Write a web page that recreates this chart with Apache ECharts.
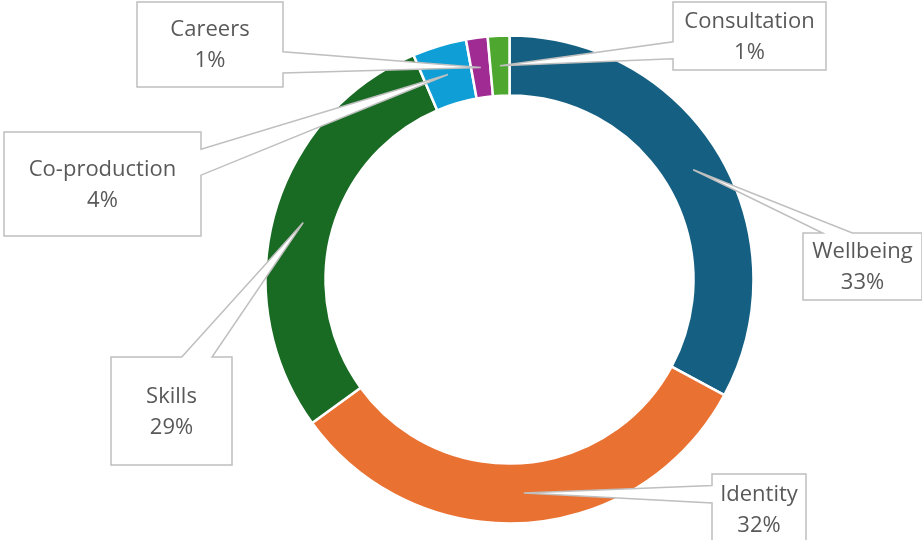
<!DOCTYPE html>
<html>
<head>
<meta charset="utf-8">
<script src="https://cdn.jsdelivr.net/npm/echarts@6/dist/echarts.min.js"></script>
<style>
  html, body { margin: 0; padding: 0; background: #ffffff; }
  #chart { width: 922px; height: 540px; }
</style>
</head>
<body>
<div id="chart"></div>
<script>
// Share of activity by theme
const categories = ['Wellbeing', 'Identity', 'Skills', 'Co-production', 'Careers', 'Consultation'];
const values = [46, 45, 40, 5, 2, 2];
const colors = ['#156082', '#E97132', '#196B24', '#0F9ED5', '#A02B93', '#4EA72E'];

// Callout boxes: [left, top, width, height] and the edge the pointer leaves from
const callouts = [
  { rect: [803, 233, 119, 67], side: 'top' },     // Wellbeing
  { rect: [712, 474, 94, 70], side: 'left' },     // Identity
  { rect: [111, 357, 121, 108], side: 'top' },    // Skills
  { rect: [4, 132, 197, 104], side: 'right' },    // Co-production
  { rect: [137, 2, 146, 85], side: 'right' },     // Careers
  { rect: [673, 2, 153, 68], side: 'left' }       // Consultation
];

const CENTER = [509.5, 279.5];
const RADIUS = [184, 244];
const TEXT_COLOR = '#595959';
const BOX_STROKE = '#BFBFBF';

const chart = echarts.init(document.getElementById('chart'), null, { renderer: 'canvas' });

const ringData = categories.map((name, i) => ({
  name: name,
  value: values[i],
  itemStyle: { color: colors[i] }
}));

const labelData = categories.map((name, i) => ({ name: name, value: values[i] }));

const option = {
  animation: false,
  backgroundColor: '#ffffff',
  series: [
    {
      type: 'pie',
      z: 2,
      silent: true,
      center: CENTER,
      radius: RADIUS,
      startAngle: 90,
      clockwise: true,
      avoidLabelOverlap: false,
      itemStyle: { borderColor: '#ffffff', borderWidth: 2.5 },
      label: { show: false },
      labelLine: { show: false },
      emphasis: { disabled: true },
      data: ringData
    },
    {
      // transparent twin of the ring that carries the callout text above the boxes
      type: 'pie',
      z: 10,
      silent: true,
      center: CENTER,
      radius: RADIUS,
      startAngle: 90,
      clockwise: true,
      avoidLabelOverlap: false,
      itemStyle: { color: 'rgba(0,0,0,0)', borderWidth: 0 },
      emphasis: { disabled: true },
      label: {
        show: true,
        position: 'outside',
        fontFamily: 'Open Sans',
        fontSize: 22,
        lineHeight: 31,
        color: TEXT_COLOR,
        align: 'center',
        formatter: p => p.name + '\n' + Math.round(p.percent) + '%'
      },
      labelLine: { show: false },
      labelLayout: function (p) {
        const r = callouts[p.dataIndex].rect;
        return {
          x: r[0] + r[2] / 2,
          y: r[1] + r[3] / 2 + 1,
          align: 'center',
          verticalAlign: 'middle'
        };
      },
      data: labelData
    }
  ]
};

chart.setOption(option);

// Build each callout outline: a box with a wedge pointing at the middle of its segment
function calloutPoints(c, tip) {
  const [x, y, w, h] = c.rect;
  const cx = x + w / 2, cy = y + h / 2;
  const side = c.side;
  const horizontal = side === 'top' || side === 'bottom';
  const f = horizontal ? (tip[0] < cx ? 0.29 : 0.71) : (tip[1] < cy ? 0.29 : 0.71);
  const a = f - 0.125, b = f + 0.125;
  const pts = [[x, y]];
  if (side === 'top') pts.push([x + a * w, y], tip, [x + b * w, y]);
  pts.push([x + w, y]);
  if (side === 'right') pts.push([x + w, y + a * h], tip, [x + w, y + b * h]);
  pts.push([x + w, y + h]);
  if (side === 'bottom') pts.push([x + b * w, y + h], tip, [x + a * w, y + h]);
  pts.push([x, y + h]);
  if (side === 'left') pts.push([x, y + b * h], tip, [x, y + a * h]);
  return pts;
}

const ring = chart.getModel().getSeriesByIndex(0).getData();
const shapes = callouts.map((c, i) => {
  const L = ring.getItemLayout(i);
  const mid = (L.startAngle + L.endAngle) / 2;
  const rm = (L.r + L.r0) / 2;
  const tip = [L.cx + rm * Math.cos(mid), L.cy + rm * Math.sin(mid)];
  return {
    type: 'polygon',
    z: 5,
    silent: true,
    shape: { points: calloutPoints(c, tip) },
    style: { fill: '#ffffff', stroke: BOX_STROKE, lineWidth: 1.5 }
  };
});

chart.setOption({ graphic: shapes });
</script>
</body>
</html>
